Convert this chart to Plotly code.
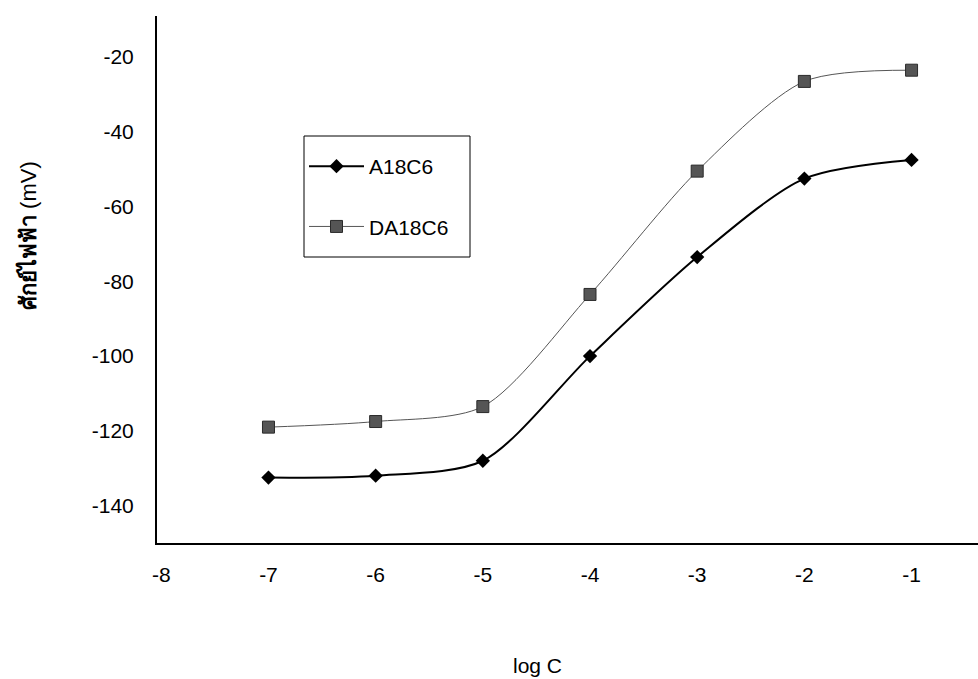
import plotly.graph_objects as go

log_c = [-7, -6, -5, -4, -3, -2, -1]
a18c6 = [-132.5, -132, -128, -100, -73.5, -52.5, -47.5]
da18c6 = [-119, -117.5, -113.5, -83.5, -50.5, -26.5, -23.5]
x_ticks = [-8, -7, -6, -5, -4, -3, -2, -1]
y_ticks = [-140, -120, -100, -80, -60, -40, -20]

font_main = "Liberation Sans, Arial, sans-serif"

L, T, B, W, H = 157, 16, 543, 978, 679
pw, ph = W - L, B - T


def px(x):
    return (x - L) / pw


def py(y):
    return (B - y) / ph


fig = go.Figure()
fig.add_trace(go.Scatter(
    x=log_c, y=a18c6, name="A18C6", mode="lines+markers",
    line=dict(color="black", width=2, shape="spline", smoothing=0.8),
    marker=dict(symbol="diamond", size=11, color="black"),
    legendgroup="a",
))
fig.add_trace(go.Scatter(
    x=log_c, y=da18c6, name="DA18C6", mode="lines+markers",
    line=dict(color="#555555", width=1, shape="spline", smoothing=0.8),
    marker=dict(symbol="square", size=12, color="#555555",
                line=dict(color="#2a2a2a", width=1)),
    legendgroup="b",
))

fig.update_layout(
    width=W, height=H,
    paper_bgcolor="white", plot_bgcolor="white",
    margin=dict(l=L, r=0, t=T, b=H - B),
    font=dict(family=font_main, size=21, color="black"),
    showlegend=True,
    legend=dict(
        x=px(304), y=py(146), xanchor="left", yanchor="top",
        borderwidth=0, bgcolor="rgba(0,0,0,0)",
        font=dict(size=21), itemwidth=55, tracegroupgap=30,
    ),
    xaxis=dict(
        range=[-8.04, -0.38], tickvals=x_ticks, ticktext=[str(v) for v in x_ticks],
        showgrid=False, zeroline=False, showline=True, linecolor="black",
        linewidth=2, ticks="", ticklabelstandoff=12,
    ),
    yaxis=dict(
        range=[-150, -9], tickvals=y_ticks, ticktext=[str(v) for v in y_ticks],
        showgrid=False, zeroline=False, showline=True, linecolor="black",
        linewidth=2, ticks="", ticklabelstandoff=17,
    ),
    shapes=[
        dict(type="rect", xref="paper", yref="paper",
             x0=px(304), x1=px(470), y0=py(257), y1=py(136),
             line=dict(color="black", width=1), fillcolor="rgba(0,0,0,0)",
             layer="below"),
    ],
    annotations=[
        dict(text="log C", xref="paper", yref="paper", x=px(537),
             y=py(665), showarrow=False, font=dict(size=21),
             xanchor="center", yanchor="middle"),
        dict(text="<b>ศักย์ไฟฟ้า</b> (mV)", xref="paper", yref="paper",
             x=px(28), y=py(236), showarrow=False,
             textangle=-90, font=dict(size=22),
             xanchor="center", yanchor="middle"),
    ],
)

fig.write_html("out.html", config={"displayModeBar": False},
               post_script="document.body.style.margin='0';")
